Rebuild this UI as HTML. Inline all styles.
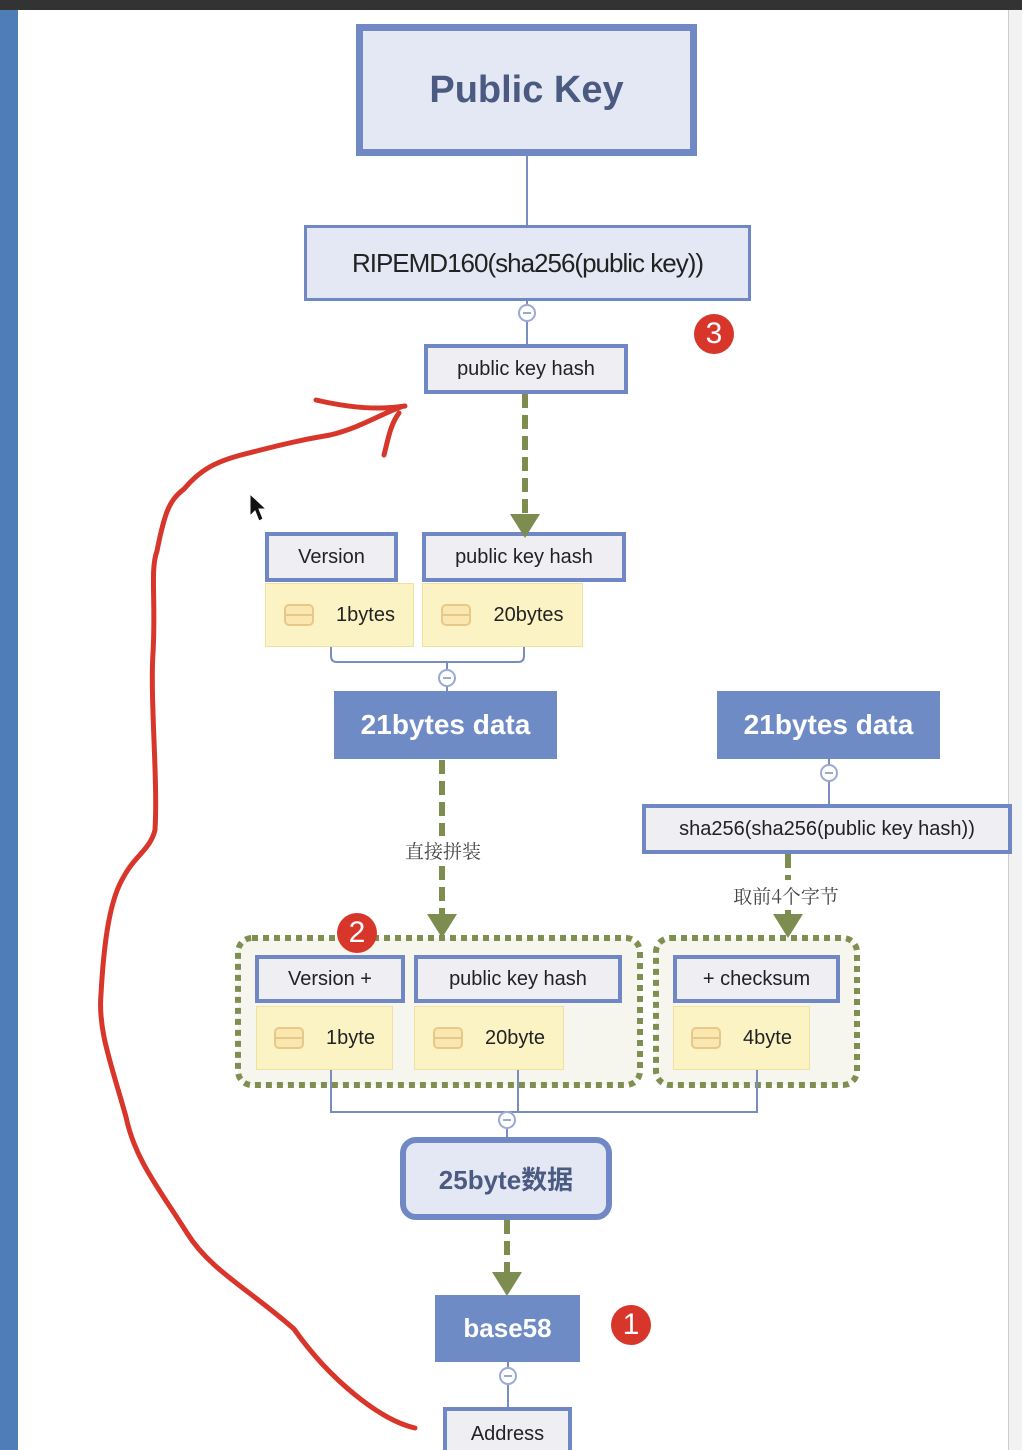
<!DOCTYPE html>
<html style="overflow:hidden"><head><meta charset="utf-8"><style>
html,body{margin:0;width:1022px;height:1450px;overflow:hidden}
body{position:relative;background:#fff;font-family:"Liberation Sans","Noto Sans CJK SC",sans-serif}
.a{position:absolute;box-sizing:border-box;display:flex;align-items:center;justify-content:center;white-space:nowrap}
.lt{background:#eeeef3;border:4px solid #6f87c5;color:#222;font-size:20px}
.y{background:#fbf3c4;border:1px solid #ede29f;color:#222;font-size:20px}
.y i{display:inline-block;width:30px;height:22px;border:2px solid #e6c98a;border-radius:5px;box-sizing:border-box;margin-right:22px;position:relative;background:#fae7b0}
.y i:after{content:"";position:absolute;left:-2px;right:-2px;top:8px;border-top:2px solid #e6c98a}
.dk{background:#6f8bc6;color:#fff;font-weight:bold;font-size:28px}
.badge{position:absolute;width:40px;height:40px;border-radius:50%;background:#d8352b;color:#fff;font-size:30px;display:flex;align-items:center;justify-content:center}
</style></head><body>
<div style="position:absolute;left:0;top:0;width:1022px;height:10px;background:#333"></div>
<div style="position:absolute;left:0;top:10px;width:18px;height:1440px;background:#4f7db8"></div>
<div style="position:absolute;left:1008px;top:10px;width:14px;height:1440px;background:#f2f2f2;border-left:1px solid #ccc"></div>

<svg width="1022" height="1450" style="position:absolute;left:0;top:0" fill="none">
<rect x="238" y="938" width="402" height="147" rx="14" fill="#f6f6ee" stroke="#7f8f52" stroke-width="6" stroke-dasharray="6 5"/>
<rect x="656" y="938" width="201" height="147" rx="14" fill="#f6f6ee" stroke="#7f8f52" stroke-width="6" stroke-dasharray="6 5"/>
</svg>

<div class="a" style="left:356px;top:24px;width:341px;height:132px;background:#e4e8f4;border:7px solid #7088c4;color:#4a5a80;font-weight:bold;font-size:38px">Public Key</div>
<div class="a lt" style="left:304px;top:225px;width:447px;height:76px;border-width:3px;font-size:26px;background:#e4e8f4;letter-spacing:-1px">RIPEMD160(sha256(public key))</div>
<div class="a lt" style="left:424px;top:344px;width:204px;height:50px">public key hash</div>

<div class="a lt" style="left:265px;top:532px;width:133px;height:50px">Version</div>
<div class="a lt" style="left:422px;top:532px;width:204px;height:50px">public key hash</div>
<div class="a y" style="left:265px;top:583px;width:149px;height:64px"><i></i>1bytes</div>
<div class="a y" style="left:422px;top:583px;width:161px;height:64px"><i></i>20bytes</div>

<div class="a dk" style="left:334px;top:691px;width:223px;height:68px">21bytes data</div>
<div class="a dk" style="left:717px;top:691px;width:223px;height:68px">21bytes data</div>
<div class="a lt" style="left:642px;top:804px;width:370px;height:50px">sha256(sha256(public key hash))</div>

<div class="a lt" style="left:255px;top:955px;width:150px;height:48px">Version +</div>
<div class="a lt" style="left:414px;top:955px;width:208px;height:48px">public key hash</div>
<div class="a lt" style="left:673px;top:955px;width:167px;height:48px">+ checksum</div>
<div class="a y" style="left:256px;top:1006px;width:137px;height:64px"><i></i>1byte</div>
<div class="a y" style="left:414px;top:1006px;width:150px;height:64px"><i></i>20byte</div>
<div class="a y" style="left:673px;top:1006px;width:137px;height:64px"><i></i>4byte</div>

<div class="a" style="left:400px;top:1137px;width:212px;height:83px;background:#e4e8f4;border:6px solid #7088c4;border-radius:16px;color:#4a5a80;font-weight:bold;font-size:26px">25byte数据</div>
<div class="a dk" style="left:435px;top:1295px;width:145px;height:67px;font-size:26px">base58</div>
<div class="a lt" style="left:443px;top:1407px;width:129px;height:43px;border-bottom:none;align-items:flex-start;padding-top:12px">Address</div>

<svg width="1022" height="1450" style="position:absolute;left:0;top:0" fill="none">
<g stroke="#7a8dbf" stroke-width="2">
<line x1="527" y1="156" x2="527" y2="225"/><line x1="527" y1="301" x2="527" y2="344"/>
<path d="M331 647 V656 Q331 662 337 662 H518 Q524 662 524 656 V647 M447 662 V691"/>
<line x1="829" y1="759" x2="829" y2="804"/>
<path d="M331 1070 V1112 H757 V1070 M518 1070 V1112 M507 1112 V1137"/>
<line x1="508" y1="1362" x2="508" y2="1407"/>
</g>
<g fill="#fff" stroke="#9aaad4" stroke-width="2">
<circle cx="527" cy="313" r="8"/><circle cx="447" cy="678" r="8"/><circle cx="829" cy="773" r="8"/><circle cx="507" cy="1120" r="8"/><circle cx="508" cy="1376" r="8"/>
</g>
<g stroke="#9aaad4" stroke-width="2"><path d="M523 313h8M443 678h8M825 773h8M503 1120h8M504 1376h8"/></g>
<g stroke="#7d8c4f" stroke-width="6" stroke-dasharray="14 7">
<line x1="525" y1="394" x2="525" y2="516"/><line x1="442" y1="760" x2="442" y2="836"/><line x1="442" y1="866" x2="442" y2="916"/>
<line x1="788" y1="854" x2="788" y2="880"/><line x1="788" y1="910" x2="788" y2="916"/><line x1="507" y1="1220" x2="507" y2="1274"/>
</g>
<g fill="#7d8c4f"><path d="M510 514h30l-15 24z"/><path d="M427 914h30l-15 24z"/><path d="M773 914h30l-15 24z"/><path d="M492 1272h30l-15 24z"/></g>
<text x="443" y="858" font-size="19" fill="#444" text-anchor="middle" font-family="Noto Serif CJK SC, serif">直接拼装</text>
<text x="786" y="903" font-size="19" fill="#444" text-anchor="middle" font-family="Noto Serif CJK SC, serif">取前4个字节</text>
<g stroke="#d8352b" stroke-width="5" stroke-linecap="round" stroke-linejoin="round">
<path d="M415 1428 C380 1420 330 1380 294 1329 C250 1290 210 1270 187 1233 C160 1190 135 1160 126 1117 C110 1060 98 1030 101 994 C104 940 110 900 123 878 C135 855 150 850 155 830 C158 780 150 700 153 653 C156 600 150 570 157 551 C165 510 170 500 184 489 C200 470 215 462 241 455 C280 445 300 440 330 435 C360 428 385 412 401 407"/>
<path d="M316 400 C350 408 380 410 405 406 M384 455 C388 440 390 425 399 413"/>
</g>
<path d="M250 494 L250 516 L255 511 L259 521 L263 519 L259 509 L266 509 Z" fill="#111" stroke="#fff" stroke-width="1"/>
</svg>
<div class="badge" style="left:694px;top:314px">3</div>
<div class="badge" style="left:337px;top:913px">2</div>
<div class="badge" style="left:611px;top:1305px">1</div>
</body></html>
